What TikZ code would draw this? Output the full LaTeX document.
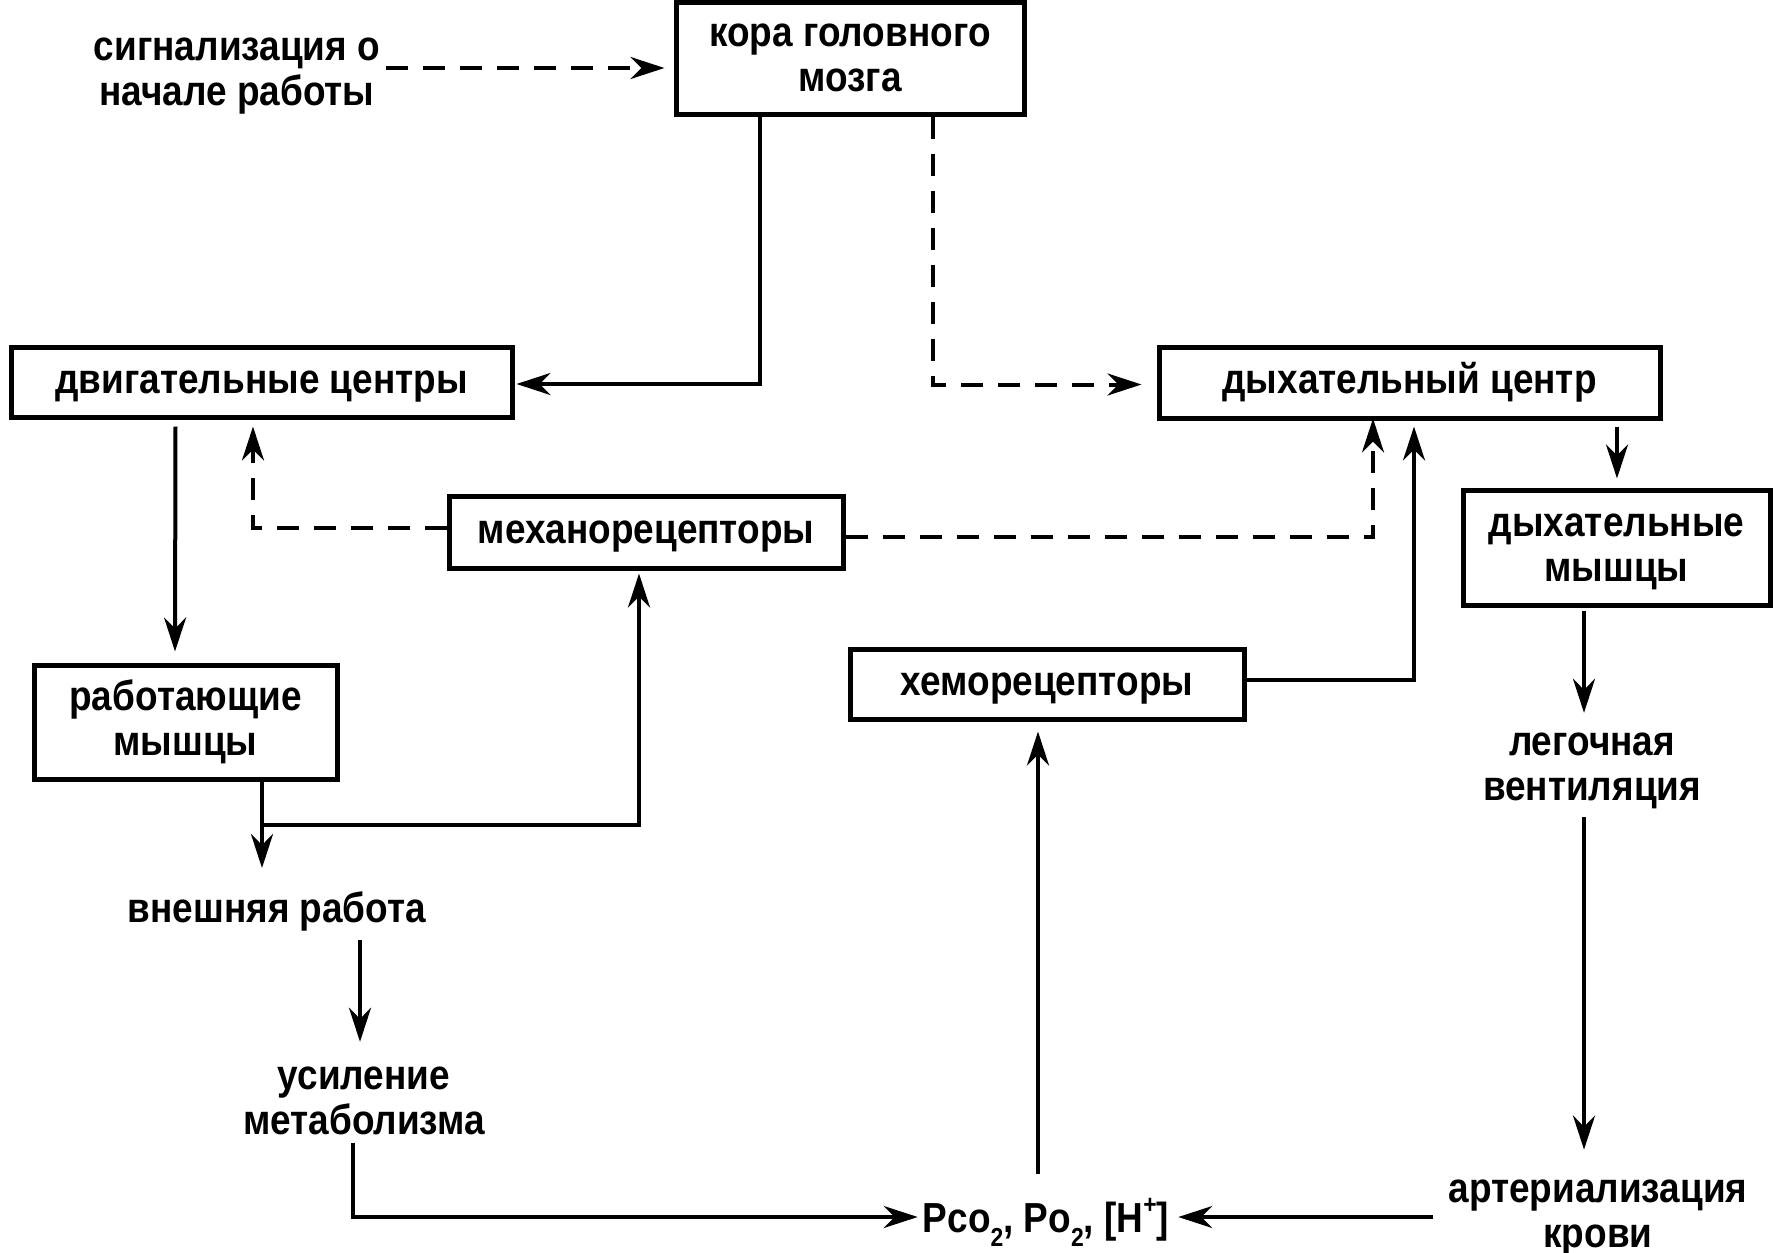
\documentclass[tikz,border=0pt]{standalone}
\usepackage{fontspec}
\setmainfont{Liberation Sans}[FakeStretch=0.88]
\usetikzlibrary{arrows.meta,calc}
\newcommand{\lowtwo}{\raisebox{-0.35em}{\fontsize{26}{26}\selectfont 2}}
\newcommand{\hiplus}{\raisebox{0.45em}{\fontsize{26}{26}\selectfont +}}
\begin{document}
\begin{tikzpicture}[x=1pt,y=-1pt,
  every node/.style={font=\fontsize{42}{45}\selectfont\bfseries, align=center, inner sep=0pt},
  box/.style={draw, line width=5pt, minimum width=#1},
  low/.style={text depth=0pt},
  conn/.style={line width=4pt, -{Stealth[length=34pt,width=22pt,inset=11pt]}},
  dconn/.style={conn, dash pattern=on 22pt off 15pt}
]
\useasboundingbox (0,0) rectangle (1773,1253);
% boxes
\node[box=348, minimum height=112] (kora) at (850,58) {кора головного\\мозга};
\node[box=501, minimum height=70, low] (dvig) at (261.5,382) {двигательные центры};
\node[box=501, minimum height=71] (dyhc) at (1409.5,382.5) {дыхательный центр};
\node[box=303, minimum height=114] (rabm) at (185.5,722) {работающие\\мышцы};
\node[box=394, minimum height=72, low] (mehan) at (646,532) {механорецепторы};
\node[box=394, minimum height=70, low] (hemo) at (1047,684) {хеморецепторы};
\node[box=307, minimum height=115, low] (dyhm) at (1616.5,547.5) {дыхательные\\мышцы};
% plain texts
\node (signal) at (237,76) {сигнализация о\\начале работы};
\node (vnesh) at (277,911.4) {внешняя работа};
\node (usil) at (364,1100.5) {усиление\\метаболизма};
\node (legoch) at (1592,771) {легочная\\вентиляция};
\node (arter) at (1598,1218) {артериализация\\крови};
\node (pp) at (1046,1222.4) {Pco\lowtwo, Po\lowtwo, [H\hiplus]};
% helper coordinates
\coordinate (kx1) at (760,0);
\coordinate (kx2) at (933,0);
% connectors
\draw[dconn] ($(signal.east)+(6,-8)$) -- ($(kora.west)+(-9,10)$);
\draw[conn] (kx1 |- kora.south) |- ($(dvig.east)+(2,2)$);
\draw[dconn] (kx2 |- kora.south) |- ($(dyhc.west)+(-15,2)$);
\draw[conn] ($(dvig.south)+(-86,7)$) -- ($(rabm.north)+(-10.5,-11)$);
\draw[dconn] ($(mehan.west)+(0,-4)$) -| ($(dvig.south)+(-8.5,7)$);
\draw[dconn] ($(mehan.east)+(0,5)$) -| ($(dyhc.south)+(-36.5,-2)$);
\draw[conn] ($(hemo.east)+(0,-4)$) -| ($(dyhc.south)+(4.5,6)$);
\draw[conn] ($(dyhc.south)+(207.5,6)$) -- ($(dyhm.north)+(0.5,-9)$);
\draw[conn] ($(dyhm.south)+(-32.5,3)$) -- ($(legoch.north)+(-8,-20)$);
\draw[conn] ($(legoch.south)+(-8,8)$) -- ($(arter.north)+(-14,-30)$);
\draw[conn] ($(arter.west)+(-15,-1)$) -- ($(pp.east)+(9,-5.4)$);
\draw[conn] ($(pp.north)+(-8,-23.4)$) -- ($(hemo.south)+(-9,10)$);
\draw[conn] ($(rabm.south)+(76.5,0)$) -- ($(vnesh.north)+(-15,-23.4)$);
\draw[conn] ($(rabm.south)+(76.5,43)$) -| ($(mehan.south)+(-7,3)$);
\draw[conn] ($(vnesh.south)+(83,8.6)$) -- ($(usil.north)+(-4,-24.5)$);
\draw[conn] ($(usil.south)+(-11,8.5)$) |- ($(pp.west)+(-5,-5.4)$);
\end{tikzpicture}
\end{document}
